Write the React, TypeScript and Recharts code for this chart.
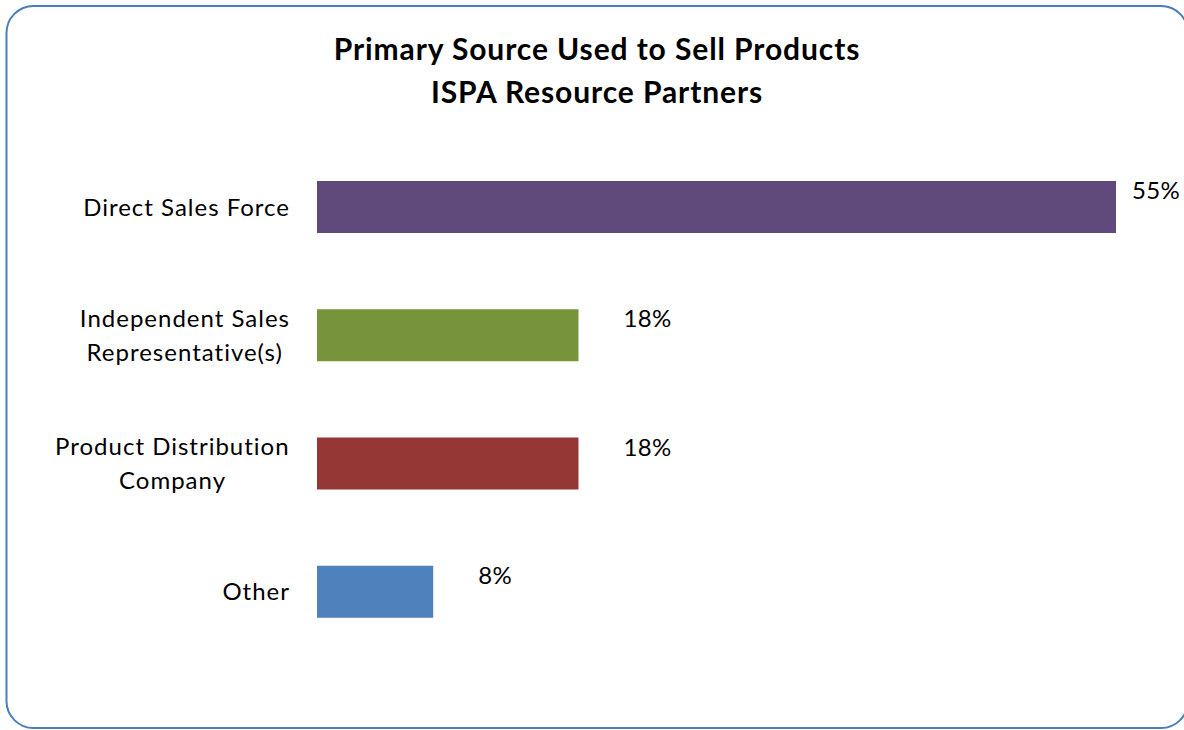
import { Bar, BarChart, Cell, LabelList, XAxis, YAxis } from "recharts";

// Share of resource partners naming each channel as their main way to sell
const categories = [
  "Direct Sales Force",
  "Independent Sales\nRepresentative(s)",
  "Product Distribution\nCompany",
  "Other",
];
const shares = [55, 18, 18, 8];
const barColors = ["#604a7b", "#77933c", "#953735", "#4f81bd"];
const titleLines = ["Primary Source Used to Sell Products", "ISPA Resource Partners"];

const data = categories.map((name, i) => ({ name, value: shares[i] }));

const WIDTH = 1184;
const HEIGHT = 730;
const FONT = "Lato, 'Open Sans', sans-serif";
const CAT_SIZE = 24;
const CAT_SPACING = 1;
const CAT_RIGHT = 289;
const CAT_LINE = 33.5;

let measureCtx: CanvasRenderingContext2D | null = null;
function textWidth(s: string) {
  if (!measureCtx) measureCtx = document.createElement("canvas").getContext("2d");
  if (!measureCtx) return s.length * CAT_SIZE * 0.5;
  measureCtx.font = `${CAT_SIZE}px Lato`;
  return measureCtx.measureText(s).width + (s.length - 1) * CAT_SPACING;
}

// multi-line category names, each line centred inside a right-aligned block
function CategoryTick(props: any) {
  const { y, payload } = props;
  const lines = String(payload.value).split("\n");
  const blockW = Math.max(...lines.map(textWidth));
  const first = y - ((lines.length - 1) * CAT_LINE) / 2 + 8.5;
  return (
    <g>
      {lines.map((line, i) => {
        const lx = CAT_RIGHT - blockW / 2 - textWidth(line) / 2;
        return (
          <text
            key={i}
            x={lx}
            y={first + i * CAT_LINE}
            fontFamily={FONT}
            fontSize={CAT_SIZE}
            letterSpacing={CAT_SPACING}
            fill="#000"
          >
            {line}
          </text>
        );
      })}
    </g>
  );
}

function ValueLabel(props: any) {
  const x = Number(props.x);
  const y = Number(props.y);
  const w = Number(props.width);
  // keep the long bar's label inside the frame
  const tx = Math.min(x + w + 45, WIDTH - 52);
  return (
    <text x={tx} y={y + 18} fontFamily={FONT} fontSize={24} letterSpacing={0.3} fill="#000">
      {`${props.value}%`}
    </text>
  );
}

export default function App() {
  return (
    <div
      style={{
        position: "fixed",
        left: 0,
        top: 0,
        width: WIDTH,
        height: HEIGHT,
        overflow: "hidden",
        background: "#fff",
      }}
    >
      <BarChart
        width={WIDTH}
        height={HEIGHT}
        data={data}
        layout="vertical"
        margin={{ top: 143, right: 68, bottom: 74, left: 0 }}
      >
        <XAxis type="number" domain={[0, 55]} allowDataOverflow hide />
        <YAxis
          type="category"
          dataKey="name"
          width={317}
          axisLine={false}
          tickLine={false}
          interval={0}
          tick={<CategoryTick />}
        />
        <Bar dataKey="value" barSize={52} isAnimationActive={false}>
          {data.map((d, i) => (
            <Cell key={d.name} fill={barColors[i]} />
          ))}
          <LabelList dataKey="value" content={<ValueLabel />} />
        </Bar>
      </BarChart>
      <svg
        width={WIDTH}
        height={HEIGHT}
        style={{ position: "absolute", left: 0, top: 0, pointerEvents: "none" }}
      >
        <rect
          x={6.5}
          y={6}
          width={1181.5}
          height={722}
          rx={27}
          ry={27}
          fill="none"
          stroke="#4a7ebb"
          strokeWidth={2}
        />
        {titleLines.map((t, i) => (
          <text
            key={t}
            x={597}
            y={60 + i * 43}
            textAnchor="middle"
            fontFamily={FONT}
            fontWeight={700}
            fontSize={30}
            letterSpacing={0.9}
            fill="#000"
          >
            {t}
          </text>
        ))}
      </svg>
    </div>
  );
}
